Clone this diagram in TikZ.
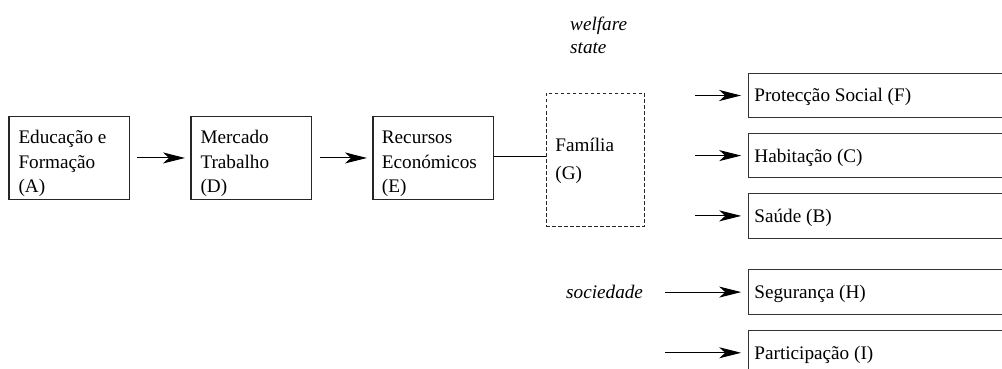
\documentclass[tikz,border=0pt]{standalone}
\usepackage{fontspec}
\setmainfont{Liberation Serif}
\usetikzlibrary{arrows.meta}
\begin{document}
\begin{tikzpicture}[x=1pt,y=-1pt,
  mainbox/.style={draw=black!85,line width=1.2pt,inner sep=0pt,anchor=north west,
    minimum width=120.4pt,minimum height=83.3pt},
  sidebox/.style={draw=black!80,line width=1pt,inner sep=0pt,anchor=north west,
    minimum width=280pt,minimum height=44.6pt},
  dashbox/.style={draw=black!85,line width=1pt,dash pattern=on 3.5pt off 2.5pt,
    inner sep=0pt,anchor=north west,minimum width=98.6pt,minimum height=133pt},
  txt/.style={anchor=base west,inner sep=0pt,font=\fontsize{19.2}{23}\selectfont},
  itxt/.style={txt,font=\fontsize{19.2}{23}\selectfont\itshape},
  arr/.style={line width=1pt,-{Stealth[length=22pt,width=11pt,inset=6pt]}},
  link/.style={line width=1pt}]
\useasboundingbox (0,0) rectangle (1002,369);
\clip (0,0) rectangle (1002,369);

% chain of boxes on the left
\node[mainbox] (A) at (8.3,115.7) {};
\node[mainbox] (D) at (190.3,115.7) {};
\node[mainbox] (E) at (372.3,115.7) {};
\node[dashbox] (G) at (545.7,92.7) {};

\node[txt] (a1) at (18.3,143.5) {Educação e};
\node[txt] (a2) at (18.3,168) {Formação};
\node[txt] (a3) at (18.3,192.5) {(A)};
\node[txt] (d1) at (200.3,143.5) {Mercado};
\node[txt] (d2) at (200.3,168) {Trabalho};
\node[txt] (d3) at (200.3,192.5) {(D)};
\node[txt] (e1) at (381.7,143.5) {Recursos};
\node[txt] (e2) at (381.7,168) {Económicos};
\node[txt] (e3) at (381.7,192.5) {(E)};
\node[txt] (g1) at (555.2,151) {Família};
\node[txt] (g2) at (555.2,179.5) {(G)};

\draw[arr,shorten <=7.3pt,shorten >=5.3pt] (A.east) -- (D.west);
\draw[arr,shorten <=8.5pt,shorten >=5.3pt] (D.east) -- (E.west);
\draw[link] (E.east) ++(0,-1.5) coordinate (e0) -- (e0 -| G.west);

% headings
\node[itxt] (w1) at (570,30.5) {welfare};
\node[itxt] (w2) at (570,53.5) {state};
\node[itxt] (soc) at (566,298.8) {sociedade};

% boxes on the right, running off the edge
\node[sidebox] (F) at (747.7,72.7) {};
\node[sidebox] (C) at (747.7,132.8) {};
\node[sidebox] (B) at (747.7,193.1) {};
\node[sidebox] (H) at (747.7,269.3) {};
\node[sidebox] (I) at (747.7,330) {};

\node[txt] (f1) at (754.2,101.8) {Protecção Social (F)};
\node[txt] (c1) at (754.2,162) {Habitação (C)};
\node[txt] (b1) at (754.2,222.2) {Saúde (B)};
\node[txt] (h1) at (754.2,298.8) {Segurança (H)};
\node[txt] (i1) at (754.2,359.2) {Participação (I)};

\coordinate (w0) at (695,0);
\coordinate (s0) at (665,0);
\draw[arr,shorten >=6.5pt] (w0 |- F.west) -- (F.west);
\draw[arr,shorten >=6.5pt] (w0 |- C.west) -- (C.west);
\draw[arr,shorten >=6.5pt] (w0 |- B.west) -- (B.west);
\draw[arr,shorten >=6.5pt] (s0 |- H.west) -- (H.west);
\draw[arr,shorten >=6.5pt] (s0 |- I.west) -- (I.west);
\end{tikzpicture}
\end{document}
